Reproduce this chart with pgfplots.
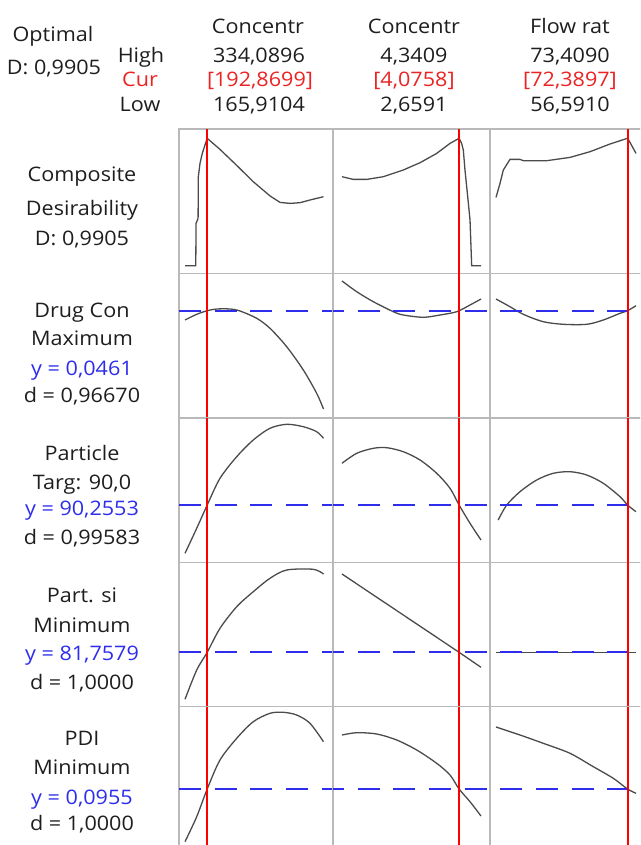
\documentclass[border=0pt]{standalone}
\usepackage{pgfplots}
\pgfplotsset{compat=1.18}
\usepackage{fontspec}
\setmainfont[FakeStretch=1.08]{Open Sans}
\definecolor{gridc}{RGB}{185,185,185}
\definecolor{curvec}{RGB}{75,75,75}
\definecolor{redc}{RGB}{255,0,0}
\definecolor{bluec}{RGB}{45,45,235}
\definecolor{textc}{RGB}{30,30,30}
\definecolor{curc}{RGB}{235,35,35}
\pgfplotsset{
  panel/.style={scale only axis, height=144.4pt, ymin=0, ymax=144.4,
    xtick=\empty, ytick=\empty, axis line style={draw=gridc, line width=1.4pt},
    clip=true, anchor=north west},
  c1/.style={width=154pt, xmin=158.62, xmax=345.63},
  c2/.style={width=157pt, xmin=2.5502, xmax=4.4498},
  c3/.style={width=156pt, xmin=55.870, xmax=74.610},
  crv/.style={draw=curvec, line width=1.3pt, no markers},
  rl/.style={draw=redc, line width=2pt, no markers},
  bl/.style={draw=bluec, line width=2pt, no markers, dash pattern=on 22pt off 13.7pt},
}
\begin{document}
\begin{tikzpicture}[every node/.style={font=\fontsize{20}{24}\selectfont, text=textc, inner sep=0pt}]
\useasboundingbox (0,0) rectangle (640pt,-845pt);
\clip (0,0) rectangle (640pt,-845pt);
% ---------- header ----------
\node[anchor=base] at (53pt,-42pt) {Optimal};
\node[anchor=base] at (54pt,-75pt) {D: 0,9905};
\node[anchor=base] at (141pt,-63pt) {High};
\node[anchor=base, text=curc] at (140pt,-87pt) {Cur};
\node[anchor=base] at (140pt,-112pt) {Low};
\node[anchor=base] at (258pt,-34pt) {Concentr};
\node[anchor=base] at (259pt,-63pt) {334,0896};
\node[anchor=base, text=curc] at (260pt,-87pt) {[192,8699]};
\node[anchor=base] at (259pt,-112pt) {165,9104};
\node[anchor=base] at (414pt,-34pt) {Concentr};
\node[anchor=base] at (414pt,-63pt) {4,3409};
\node[anchor=base, text=curc] at (414pt,-87pt) {[4,0758]};
\node[anchor=base] at (414pt,-112pt) {2,6591};
\node[anchor=base] at (570pt,-34pt) {Flow rat};
\node[anchor=base] at (570pt,-63pt) {73,4090};
\node[anchor=base, text=curc] at (570pt,-87pt) {[72,3897]};
\node[anchor=base] at (570pt,-112pt) {56,5910};
% ---------- row labels ----------
\node[anchor=base] at (82pt,-182pt) {Composite};
\node[anchor=base] at (82pt,-215pt) {Desirability};
\node[anchor=base] at (82pt,-245pt) {D: 0,9905};
\node[anchor=base] at (82pt,-317pt) {Drug Con};
\node[anchor=base] at (82pt,-345pt) {Maximum};
\node[anchor=base, text=bluec] at (82pt,-375pt) {y = 0,0461};
\node[anchor=base] at (82pt,-402pt) {d = 0,96670};
\node[anchor=base] at (82pt,-460pt) {Particle};
\node[anchor=base] at (82pt,-489pt) {Targ: 90,0};
\node[anchor=base, text=bluec] at (82pt,-515pt) {y = 90,2553};
\node[anchor=base] at (82pt,-544pt) {d = 0,99583};
\node[anchor=base] at (82pt,-602pt) {Part. si};
\node[anchor=base] at (82pt,-632pt) {Minimum};
\node[anchor=base, text=bluec] at (82pt,-660pt) {y = 81,7579};
\node[anchor=base] at (82pt,-689pt) {d = 1,0000};
\node[anchor=base] at (82pt,-745pt) {PDI};
\node[anchor=base] at (82pt,-774pt) {Minimum};
\node[anchor=base, text=bluec] at (82pt,-804pt) {y = 0,0955};
\node[anchor=base] at (82pt,-830pt) {d = 1,0000};

% ================= Row 1: Composite desirability =================
\begin{axis}[panel, c1, at={(179pt,-129pt)}]
\addplot[crv, sharp plot] coordinates {(165.91,7.7)(179.0,7.7)(179.3,50)(181.8,55)(182.1,96.7)(184.1,110)(186.9,120)(190.2,128.4)(192.87,135.1)(208.4,124)(228.7,108)(248.8,91.7)(269.1,77.5)(281.3,71)(293.4,70)(305.6,70.7)(317.7,73.4)(334.09,76.7)};
\addplot[rl] coordinates {(192.8699,0)(192.8699,144.4)};
\end{axis}
\begin{axis}[panel, c2, at={(333pt,-129pt)}]
\addplot[crv, sharp plot] coordinates {(2.6591,96.7)(2.796,94)(2.958,94)(3.159,96.7)(3.401,103.4)(3.603,110.7)(3.805,120)(3.966,130)(4.0758,135.1)(4.107,130)(4.127,123.4)(4.147,103.4)(4.180,76.7)(4.208,53.4)(4.228,7.7)(4.3409,7.7)};
\addplot[rl] coordinates {(4.0758,0)(4.0758,144.4)};
\end{axis}
\begin{axis}[panel, c3, at={(490pt,-129pt)}]
\addplot[crv, sharp plot] coordinates {(56.591,76)(57.07,90)(57.47,103.4)(58.27,114)(59.47,114)(59.87,112.7)(62.68,112.7)(65.48,116)(67.88,121.7)(70.29,129.4)(72.3897,135.1)(72.69,131)(73.409,120)};
\addplot[rl] coordinates {(72.3897,0)(72.3897,144.4)};
\end{axis}

% ================= Row 2: Drug Con =================
\begin{axis}[panel, c1, at={(179pt,-273.4pt)}]
\addplot[crv, smooth, tension=0.5] coordinates {(165.91,97.8)(180.12,103.5)(192.87,107.1)(204.4,108.8)(220.6,108.8)(232.7,106.8)(253.0,99.5)(269.1,89.5)(289.4,71.1)(309.6,47.8)(325.8,24.5)(334.09,8.8)};
\addplot[bl] coordinates {(158.62,107.1)(345.63,107.1)};
\addplot[rl] coordinates {(192.8699,0)(192.8699,144.4)};
\end{axis}
\begin{axis}[panel, c2, at={(333pt,-273.4pt)}]
\addplot[crv, smooth, tension=0.5] coordinates {(2.6591,136.8)(2.837,126.1)(3.038,116.1)(3.280,106.1)(3.401,102.8)(3.643,100.5)(3.845,102.8)(4.047,106.1)(4.208,112.8)(4.3409,118.8)};
\addplot[bl, dash phase=11.2pt] coordinates {(2.5502,107.1)(4.4498,107.1)};
\addplot[rl] coordinates {(4.0758,0)(4.0758,144.4)};
\end{axis}
\begin{axis}[panel, c3, at={(490pt,-273.4pt)}]
\addplot[crv, smooth, tension=0.5] coordinates {(56.591,118.8)(58.27,111.1)(59.87,103.5)(62.27,96.1)(64.68,93.5)(67.49,93.5)(69.48,97.8)(71.49,104.5)(72.3897,107.1)(73.409,112.1)};
\addplot[bl, dash phase=25.4pt] coordinates {(55.870,107.1)(74.610,107.1)};
\addplot[rl] coordinates {(72.3897,0)(72.3897,144.4)};
\end{axis}

% ================= Row 3: Particle =================
\begin{axis}[panel, c1, at={(179pt,-417.8pt)}]
\addplot[crv, smooth, tension=0.5] coordinates {(165.91,8.9)(180.12,33.9)(192.87,57.2)(208.4,83.9)(228.7,105.5)(248.8,122.2)(269.1,133.9)(289.4,137.9)(309.6,135.5)(325.8,130.5)(334.09,123.9)};
\addplot[bl] coordinates {(158.62,57.2)(345.63,57.2)};
\addplot[rl] coordinates {(192.8699,0)(192.8699,144.4)};
\end{axis}
\begin{axis}[panel, c2, at={(333pt,-417.8pt)}]
\addplot[crv, smooth, tension=0.5] coordinates {(2.6591,98.9)(2.837,108.9)(3.038,113.9)(3.200,114.5)(3.401,110.5)(3.603,102.2)(3.805,88.9)(3.966,73.9)(4.0758,57.2)(4.208,38.9)(4.3409,22.2)};
\addplot[bl, dash phase=11.2pt] coordinates {(2.5502,57.2)(4.4498,57.2)};
\addplot[rl] coordinates {(4.0758,0)(4.0758,144.4)};
\end{axis}
\begin{axis}[panel, c3, at={(490pt,-417.8pt)}]
\addplot[crv, smooth, tension=0.5] coordinates {(56.85,42.2)(57.88,57.2)(59.47,70.5)(61.48,82.2)(63.47,88.9)(65.48,90.5)(67.49,87.2)(69.48,78.9)(71.49,65.5)(72.3897,57.2)(73.409,50.5)};
\addplot[bl, dash phase=25.4pt] coordinates {(55.870,57.2)(74.610,57.2)};
\addplot[rl] coordinates {(72.3897,0)(72.3897,144.4)};
\end{axis}

% ================= Row 4: Part. si =================
\begin{axis}[panel, c1, at={(179pt,-562.2pt)}]
\addplot[crv, smooth, tension=0.5] coordinates {(165.91,7.3)(180.12,36.6)(192.87,54.3)(208.4,78.3)(228.7,99.9)(248.8,114.9)(269.1,128.3)(289.4,136.6)(321.7,137.3)(334.09,132.6)};
\addplot[bl] coordinates {(158.62,54.3)(345.63,54.3)};
\addplot[rl] coordinates {(192.8699,0)(192.8699,144.4)};
\end{axis}
\begin{axis}[panel, c2, at={(333pt,-562.2pt)}]
\addplot[crv] coordinates {(2.6591,132.6)(4.0758,54.3)(4.3409,39.3)};
\addplot[bl, dash phase=11.2pt] coordinates {(2.5502,54.3)(4.4498,54.3)};
\addplot[rl] coordinates {(4.0758,0)(4.0758,144.4)};
\end{axis}
\begin{axis}[panel, c3, at={(490pt,-562.2pt)}]
\addplot[crv] coordinates {(56.591,54.3)(73.409,54.3)};
\addplot[bl, dash phase=25.4pt] coordinates {(55.870,54.3)(74.610,54.3)};
\addplot[rl] coordinates {(72.3897,0)(72.3897,144.4)};
\end{axis}

% ================= Row 5: PDI =================
\begin{axis}[panel, c1, at={(179pt,-706.6pt)}]
\addplot[crv, smooth, tension=0.5] coordinates {(165.91,9.3)(180.12,34.3)(192.87,62)(208.4,91)(228.7,112.7)(248.8,129.3)(269.1,137.7)(285.3,138.7)(301.5,136)(317.7,127.7)(334.09,109.3)};
\addplot[bl] coordinates {(158.62,62)(345.63,62)};
\addplot[rl] coordinates {(192.8699,0)(192.8699,144.4)};
\end{axis}
\begin{axis}[panel, c2, at={(333pt,-706.6pt)}]
\addplot[crv, smooth, tension=0.5] coordinates {(2.6591,116)(2.837,118.3)(3.079,117)(3.321,111)(3.563,101)(3.805,87.7)(3.966,76)(4.0758,62)(4.208,49.3)(4.3409,35)};
\addplot[bl, dash phase=11.2pt] coordinates {(2.5502,62)(4.4498,62)};
\addplot[rl] coordinates {(4.0758,0)(4.0758,144.4)};
\end{axis}
\begin{axis}[panel, c3, at={(490pt,-706.6pt)}]
\addplot[crv, smooth, tension=0.5] coordinates {(56.591,124)(59.47,116)(62.27,107.7)(65.48,97.7)(68.28,84.3)(70.68,72.7)(72.3897,62)(73.409,57.7)};
\addplot[bl, dash phase=25.4pt] coordinates {(55.870,62)(74.610,62)};
\addplot[rl] coordinates {(72.3897,0)(72.3897,144.4)};
\end{axis}
\end{tikzpicture}
\end{document}
